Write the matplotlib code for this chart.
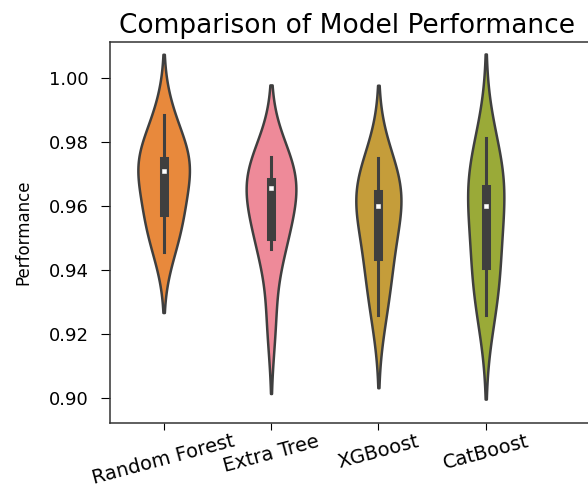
import numpy as np
import pandas as pd
import matplotlib
matplotlib.use("Agg")
import matplotlib.pyplot as plt
import seaborn as sns

models = ["Random Forest", "Extra Tree", "XGBoost", "CatBoost"]
colors = ["#e8893c", "#ee8a99", "#c59d3a", "#9aaa38"]

# 10-fold cross-validation scores for each model
rf_scores = [0.9457, 0.9530, 0.9575, 0.9600, 0.9700, 0.9718, 0.9735, 0.9743, 0.9800, 0.9883]
et_scores = [0.9240, 0.9465, 0.9500, 0.9525, 0.9640, 0.9670, 0.9672, 0.9677, 0.9720, 0.9752]
xgb_scores = [0.9260, 0.9360, 0.9430, 0.9487, 0.9585, 0.9617, 0.9630, 0.9639, 0.9700, 0.9749]
cb_scores = [0.9260, 0.9335, 0.9405, 0.9450, 0.9552, 0.9650, 0.9651, 0.9654, 0.9735, 0.9811]

yticks = [0.90, 0.92, 0.94, 0.96, 0.98, 1.00]

df = pd.DataFrame({
    "Model": np.repeat(models, len(rf_scores)),
    "Performance": rf_scores + et_scores + xgb_scores + cb_scores,
})

fig = plt.figure(figsize=(5.88, 4.96), dpi=100)
ax = fig.add_axes([0.187, 0.1466, 0.913, 0.7694])

# common_norm so the violin areas are comparable between models
sns.violinplot(data=df, x="Model", y="Performance", hue="Model", palette=colors,
               legend=False, width=0.48, bw_adjust=1.15, cut=2, common_norm=True,
               linewidth=1.8, linecolor="#3f3f3f", saturation=1,
               inner_kws=dict(box_width=6.5, whis_width=2.2, marker="s",
                              markersize=2.4, markeredgewidth=0.4),
               ax=ax)

ax.set_xlim(-0.5, 4.5)
ax.set_ylim(0.8922, 1.0112)
ax.set_yticks(yticks)
ax.set_yticklabels([f"{v:.2f}" for v in yticks])

ax.set_title("Comparison of Model Performance", fontsize=19, x=0.442, pad=6)
ax.set_xlabel("")
ax.set_ylabel("Performance", fontsize=12)
ax.yaxis.set_label_coords(-0.145, 0.5)

ax.tick_params(axis="y", labelsize=13, length=6.5, pad=9)
ax.tick_params(axis="x", labelsize=14, length=5, pad=1, labelrotation=15)
for lab in ax.get_xticklabels():
    lab.set_ha("center")
for s in ax.spines.values():
    s.set_color("#333333")
    s.set_linewidth(1.1)

fig.savefig("out.png", dpi=100)
